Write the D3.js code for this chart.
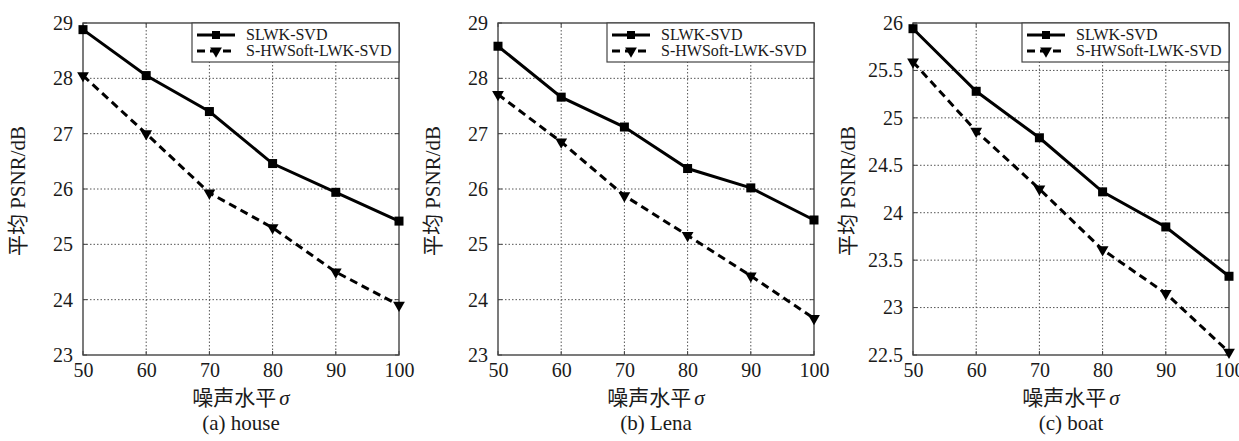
<!DOCTYPE html>
<html lang="zh">
<head>
<meta charset="UTF-8">
<title>PSNR vs noise level</title>
<script src="https://d3js.org/d3.v7.min.js"></script>
<style>
    body { margin: 0; background: #fff; }
    text { font-family: "Liberation Serif", "Times New Roman", "Noto Sans CJK SC", serif; fill: #1a1a1a; }
</style>
</head>
<body>
<script>
    // noise levels (x axis)
    let sigmas = [50, 60, 70, 80, 90, 100];
    let seriesNames = ["SLWK-SVD", "S-HWSoft-LWK-SVD"];

    // (a) house
    let houseSLWK = [28.88, 28.05, 27.40, 26.46, 25.94, 25.42];
    let houseSHW  = [28.05, 27.00, 25.93, 25.30, 24.50, 23.90];
    // (b) Lena
    let lenaSLWK = [28.58, 27.66, 27.12, 26.37, 26.02, 25.44];
    let lenaSHW  = [27.71, 26.85, 25.88, 25.16, 24.43, 23.66];
    // (c) boat
    let boatSLWK = [25.94, 25.28, 24.79, 24.22, 23.85, 23.33];
    let boatSHW  = [25.59, 24.86, 24.25, 23.61, 23.15, 22.53];

    let houseTicks = [23, 24, 25, 26, 27, 28, 29];
    let lenaTicks = [23, 24, 25, 26, 27, 28, 29];
    let boatTicks = [22.5, 23, 23.5, 24, 24.5, 25, 25.5, 26];

    let panels = [
        {caption: "(a) house", a: houseSLWK, b: houseSHW, ticks: houseTicks, left: 83},
        {caption: "(b) Lena", a: lenaSLWK, b: lenaSHW, ticks: lenaTicks, left: 498},
        {caption: "(c) boat", a: boatSLWK, b: boatSHW, ticks: boatTicks, left: 913}
    ];

    let width = 1239, height = 441;
    let plotW = 316, plotTop = 23, plotBottom = 355;

    let svg = d3.select("body").append("svg")
        .attr("width", width)
        .attr("height", height);

    panels.forEach(p => drawPanel(p));

    function drawPanel(p) {
        let g = svg.append("g").attr("transform", `translate(${p.left},0)`);

        let x = d3.scaleLinear().domain([50, 100]).range([0, plotW]);
        let y = d3.scaleLinear().domain(d3.extent(p.ticks)).range([plotBottom, plotTop]);

        // dotted grid
        g.append("g").selectAll("line")
            .data(sigmas.slice(1, -1))
            .enter().append("line")
            .attr("x1", d => x(d)).attr("x2", d => x(d))
            .attr("y1", plotTop).attr("y2", plotBottom)
            .attr("stroke", "#555").attr("stroke-width", 1)
            .attr("stroke-dasharray", "1.5,2");
        g.append("g").selectAll("line")
            .data(p.ticks.slice(1, -1))
            .enter().append("line")
            .attr("x1", 0).attr("x2", plotW)
            .attr("y1", d => y(d)).attr("y2", d => y(d))
            .attr("stroke", "#555").attr("stroke-width", 1)
            .attr("stroke-dasharray", "1.5,2");

        // inward ticks on all four sides, matlab style
        let tk = g.append("g").attr("stroke", "#444").attr("stroke-width", 1);
        sigmas.forEach(s => {
            tk.append("line").attr("x1", x(s)).attr("x2", x(s)).attr("y1", plotBottom).attr("y2", plotBottom - 4);
            tk.append("line").attr("x1", x(s)).attr("x2", x(s)).attr("y1", plotTop).attr("y2", plotTop + 4);
        });
        p.ticks.forEach(t => {
            tk.append("line").attr("x1", 0).attr("x2", 4).attr("y1", y(t)).attr("y2", y(t));
            tk.append("line").attr("x1", plotW).attr("x2", plotW - 4).attr("y1", y(t)).attr("y2", y(t));
        });

        // axes (labels only, frame drawn separately)
        let xAxis = g.append("g")
            .attr("transform", `translate(0,${plotBottom})`)
            .call(d3.axisBottom(x).tickValues(sigmas).tickSize(0).tickPadding(8));
        xAxis.select(".domain").remove();
        xAxis.selectAll("text").attr("font-size", 20).style("font-family", "Liberation Serif");

        let yAxis = g.append("g")
            .call(d3.axisLeft(y).tickValues(p.ticks).tickSize(0).tickPadding(10).tickFormat(d3.format("")));
        yAxis.select(".domain").remove();
        yAxis.selectAll("text").attr("font-size", 20).style("font-family", "Liberation Serif");

        // frame
        g.append("rect")
            .attr("x", 0).attr("y", plotTop)
            .attr("width", plotW).attr("height", plotBottom - plotTop)
            .attr("fill", "none").attr("stroke", "#444").attr("stroke-width", 1.4);

        // lines
        let line = d3.line().x((d, i) => x(sigmas[i])).y(d => y(d));

        g.append("path").datum(p.a)
            .attr("d", line)
            .attr("fill", "none").attr("stroke", "#000").attr("stroke-width", 3);
        g.append("path").datum(p.b)
            .attr("d", line)
            .attr("fill", "none").attr("stroke", "#000").attr("stroke-width", 3)
            .attr("stroke-dasharray", "8,5");

        g.append("g").selectAll("rect")
            .data(p.a)
            .enter().append("rect")
            .attr("x", (d, i) => x(sigmas[i]) - 4.5)
            .attr("y", d => y(d) - 4.5)
            .attr("width", 9).attr("height", 9)
            .attr("fill", "#000");

        let tri = d3.symbol().type(d3.symbolTriangle).size(60);
        g.append("g").selectAll("path")
            .data(p.b)
            .enter().append("path")
            .attr("d", tri)
            .attr("transform", (d, i) => `translate(${x(sigmas[i])},${y(d)}) rotate(180)`)
            .attr("fill", "#000");

        // legend
        let lg = g.append("g").attr("transform", `translate(${plotW - 207},${plotTop})`);
        lg.append("rect")
            .attr("width", 207).attr("height", 39)
            .attr("fill", "#fff").attr("stroke", "#444").attr("stroke-width", 1.2);
        seriesNames.forEach((name, i) => {
            let ly = 12 + i * 16;
            lg.append("line")
                .attr("x1", 5).attr("x2", 43).attr("y1", ly).attr("y2", ly)
                .attr("stroke", "#000").attr("stroke-width", 3)
                .attr("stroke-dasharray", i ? "8,5" : null);
            if (i === 0) {
                lg.append("rect").attr("x", 20).attr("y", ly - 4)
                    .attr("width", 8).attr("height", 8).attr("fill", "#000");
            } else {
                lg.append("path").attr("d", tri)
                    .attr("transform", `translate(24,${ly}) rotate(180)`)
                    .attr("fill", "#000");
            }
            lg.append("text")
                .attr("x", 54).attr("y", ly + 5)
                .attr("font-size", 16)
                .text(name);
        });

        // axis titles
        g.append("text")
            .attr("transform", `translate(${-58},${(plotTop + plotBottom) / 2 + 2}) rotate(-90)`)
            .attr("text-anchor", "middle")
            .attr("font-size", 21)
            .text("平均  PSNR/dB");

        let xt = g.append("text")
            .attr("x", plotW / 2).attr("y", 405)
            .attr("text-anchor", "middle")
            .attr("font-size", 21);
        xt.append("tspan").text("噪声水平");
        xt.append("tspan").attr("font-style", "italic").attr("dx", 3).text("σ");

        g.append("text")
            .attr("x", plotW / 2).attr("y", 430)
            .attr("text-anchor", "middle")
            .attr("font-size", 21)
            .text(p.caption);
    }
</script>
</body>
</html>
